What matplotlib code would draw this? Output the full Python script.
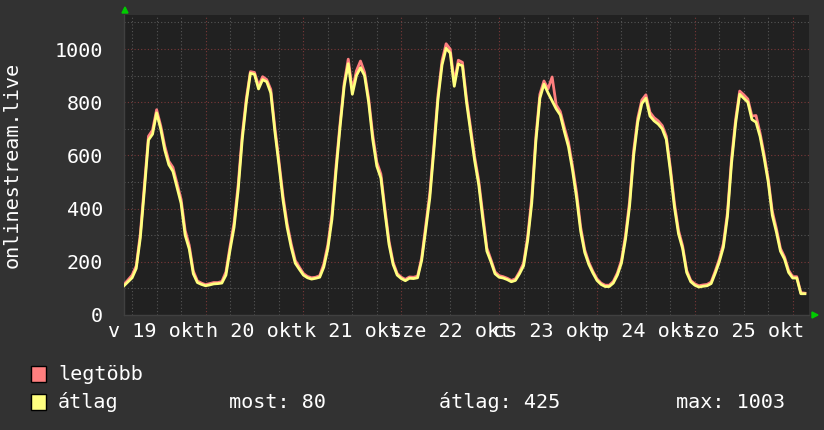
import matplotlib
matplotlib.use("Agg")
import matplotlib.pyplot as plt
from matplotlib.patches import Rectangle, Polygon
import numpy as np

# hours since Oct 19 04:00
hours = list(range(168))
atlag = [
    110,125,140,175,290,470,658,680,760,700,
    620,565,540,480,420,300,248,155,122,115,
    110,113,117,118,120,150,244,330,470,660,
    800,909,905,850,885,877,835,690,565,432,
    330,255,195,172,150,140,135,138,142,180,
    250,360,540,708,860,945,830,900,930,900,
    800,660,560,515,385,265,190,150,137,129,
    138,137,140,205,320,440,620,810,940,1003,
    985,860,944,937,800,690,580,490,360,240,
    200,155,142,139,133,125,130,155,185,280,
    420,650,815,868,835,805,775,752,690,633,
    545,440,315,235,190,158,130,115,107,107,
    120,150,195,285,410,600,725,795,815,748,
    730,718,700,660,540,405,305,250,160,125,
    112,105,108,110,118,157,200,255,370,570,
    720,830,815,800,735,725,671,590,500,375,
    312,240,210,160,139,139,80,80]
legtobb = [
    115,132,150,185,305,490,672,695,772,712,
    635,578,555,495,435,318,262,165,128,120,
    114,118,122,122,126,162,258,348,490,678,
    815,915,912,862,896,885,848,705,580,448,
    345,268,205,180,156,145,140,142,148,192,
    265,378,560,722,872,962,845,918,955,912,
    815,678,575,530,400,278,198,156,142,134,
    143,142,146,215,335,458,638,826,956,1020,
    1000,875,958,950,815,705,595,505,378,252,
    208,162,148,144,138,130,136,162,195,295,
    440,668,830,880,850,895,790,765,705,650,
    560,460,330,245,198,164,136,120,112,112,
    126,158,205,300,428,618,740,808,828,762,
    742,730,712,672,555,420,318,260,168,130,
    117,110,113,115,124,165,210,268,385,588,
    735,842,828,812,748,750,684,604,512,390,
    325,250,218,168,144,144,84,82]

day_labels = ["v 19 okt", "h 20 okt", "k 21 okt", "sze 22 okt",
              "cs 23 okt", "p 24 okt", "szo 25 okt"]
label_hours = [8, 32, 56, 80, 104, 128, 152]
midnight_hours = [20, 44, 68, 92, 116, 140, 164]
y_major = [0, 200, 400, 600, 800, 1000]
y_minor = [100, 300, 500, 700, 900, 1100]

legend_names = ["legtöbb", "átlag"]
stats = ["most: 80", "átlag: 425", "max: 1003"]

FONT = "DejaVu Sans Mono"
FS = 14.5
FIG_BG = "#323232"
AX_BG = "#212121"
RED = "#ff7f7f"
YEL = "#ffff7f"

fig = plt.figure(figsize=(8.24, 4.30), dpi=100)
fig.patch.set_facecolor(FIG_BG)
W, H = 824, 430
ax = fig.add_axes([124 / W, (H - 315) / H, 685 / W, 300 / H])
ax.set_facecolor(AX_BG)
ax.set_xlim(0, 168)
ax.set_ylim(0, 1128)

# grid
for v in y_minor:
    ax.axhline(v, color="#555555", lw=0.8, ls=(0, (1, 2)), zorder=1)
for v in y_major[1:]:
    ax.axhline(v, color="#7a3838", lw=0.8, ls=(0, (1, 2)), zorder=1)
for h in range(2, 168, 6):
    if h not in midnight_hours:
        ax.axvline(h, color="#555555", lw=0.8, ls=(0, (1, 2)), zorder=1)
for h in midnight_hours:
    ax.axvline(h, color="#7a3838", lw=0.8, ls=(0, (1, 2)), zorder=1)

ax.plot(hours, legtobb, color=RED, lw=2.0, zorder=3)
ax.plot(hours, atlag, color=YEL, lw=2.0, zorder=4)

ax.set_yticks(y_major)
ax.set_yticklabels([str(v) for v in y_major], fontfamily=FONT, fontsize=FS, color="white")
ax.set_xticks(label_hours)
ax.set_xticklabels(day_labels, fontfamily=FONT, fontsize=FS, color="white")
ax.tick_params(axis="y", length=0, pad=15)
ax.tick_params(axis="x", length=0, pad=5)
for s in ["top", "right"]:
    ax.spines[s].set_visible(False)
for s in ["left", "bottom"]:
    ax.spines[s].set_color("#404040")
    ax.spines[s].set_linewidth(1)

fig.text(12 / W, 1 - 165 / H, "onlinestream.live", rotation=90, ha="center", va="center",
         fontfamily=FONT, fontsize=FS, color="white")

# green arrows
fig.patches.append(Polygon([[122 / W, 1 - 13 / H], [128 / W, 1 - 13 / H], [125 / W, 1 - 7 / H]],
                           closed=True, transform=fig.transFigure, color="#00cc00"))
fig.patches.append(Polygon([[812 / W, 1 - 312 / H], [812 / W, 1 - 318 / H], [818 / W, 1 - 315 / H]],
                           closed=True, transform=fig.transFigure, color="#00cc00"))

# legend
rows_y = [374, 402]
for y, name, col in zip(rows_y, legend_names, [RED, YEL]):
    fig.patches.append(Rectangle((31 / W, 1 - (y + 8) / H), 15 / W, 16 / H,
                                 transform=fig.transFigure, facecolor=col,
                                 edgecolor="black", lw=1))
    fig.text(58 / W, 1 - y / H, name, ha="left", va="center",
             fontfamily=FONT, fontsize=FS, color="white")
for x, t in zip([229, 439, 676], stats):
    fig.text(x / W, 1 - rows_y[1] / H, t, ha="left", va="center",
             fontfamily=FONT, fontsize=FS, color="white")

fig.savefig("out.png", dpi=100, facecolor=FIG_BG)
